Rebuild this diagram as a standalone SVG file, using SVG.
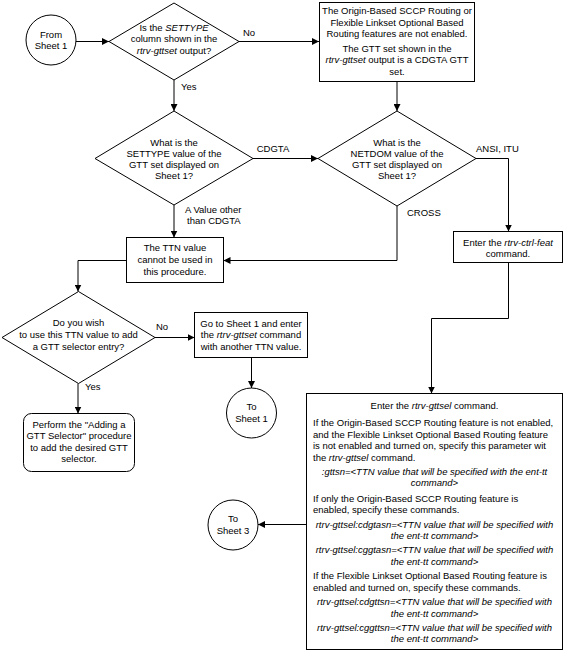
<svg xmlns="http://www.w3.org/2000/svg" width="565" height="656" viewBox="0 0 565 656">
<defs>
<style>
text{font-family:"Liberation Sans",Arial,sans-serif;font-size:9.5px;fill:#000}
.c{text-anchor:middle}
.i{font-style:italic}
.s{fill:#fff;stroke:#000;stroke-width:1}
.l{fill:none;stroke:#000;stroke-width:1}
</style>
<marker id="a" viewBox="0 0 8 8" refX="8" refY="4" markerWidth="7" markerHeight="7" markerUnits="userSpaceOnUse" orient="auto">
<path d="M0,0 L8,4 L0,8 z" fill="#000"/>
</marker>
</defs>
<rect width="565" height="656" fill="#fff"/>
<g id="connectors">
<path class="l" d="M76 41.5 H109" marker-end="url(#a)"/>
<path class="l" d="M239 41.5 H319" marker-end="url(#a)"/>
<path class="l" d="M397 81.5 V111" marker-end="url(#a)"/>
<path class="l" d="M174 80 V111" marker-end="url(#a)"/>
<path class="l" d="M253 158.5 H318" marker-end="url(#a)"/>
<path class="l" d="M476 158.5 H508.5 V231.5" marker-end="url(#a)"/>
<path class="l" d="M508.5 262.5 V318.5 H431.5 V393.5" marker-end="url(#a)"/>
<path class="l" d="M397 206 V260.5 H223.5" marker-end="url(#a)"/>
<path class="l" d="M174 205 V237.5" marker-end="url(#a)"/>
<path class="l" d="M126.5 260.5 H78 V291.5" marker-end="url(#a)"/>
<path class="l" d="M155 337.5 H194.5" marker-end="url(#a)"/>
<path class="l" d="M251.5 357.5 V388" marker-end="url(#a)"/>
<path class="l" d="M78 383.5 V413.5" marker-end="url(#a)"/>
<path class="l" d="M306.5 524.5 H258" marker-end="url(#a)"/>
<text x="243" y="36">No</text>
<text x="181" y="90">Yes</text>
<text class="c" x="273" y="152">CDGTA</text>
<text x="476" y="152">ANSI, ITU</text>
<text x="407" y="216">CROSS</text>
<text x="185" y="212.5">A Value other</text>
<text x="187" y="224">than CDGTA</text>
<text x="156" y="330">No</text>
<text x="85" y="390">Yes</text>
</g>
<g id="from-sheet1">
<circle class="s" cx="51" cy="40" r="25"/>
<text class="c" x="51" y="37.5">From</text>
<text class="c" x="51" y="49">Sheet 1</text>
</g>
<g id="settype-column">
<path class="s" d="M174 3 L239 41.5 L174 80 L109 41.5 z"/>
<text class="c" x="174" y="31">Is the <tspan class="i">SETTYPE</tspan></text>
<text class="c" x="174" y="42">column shown in the</text>
<text class="c" x="174" y="53.5"><tspan class="i">rtrv-gttset</tspan> output?</text>
</g>
<g id="features-not-enabled">
<rect class="s" x="319.5" y="2.5" width="155" height="79"/>
<text class="c" x="397" y="14">The Origin-Based SCCP Routing or</text>
<text class="c" x="397" y="25.5">Flexible Linkset Optional Based</text>
<text class="c" x="397" y="37">Routing features are not enabled.</text>
<text class="c" x="397" y="51.5">The GTT set shown in the</text>
<text class="c" x="397" y="63"><tspan class="i">rtrv-gttset</tspan> output is a CDGTA GTT</text>
<text class="c" x="397" y="74.5">set.</text>
</g>
<g id="settype-value">
<path class="s" d="M174 111 L253 158.5 L174 205 L95 158.5 z"/>
<text class="c" x="174" y="145.5">What is the</text>
<text class="c" x="174" y="156.5">SETTYPE value of the</text>
<text class="c" x="174" y="167.5">GTT set displayed on</text>
<text class="c" x="174" y="178.5">Sheet 1?</text>
</g>
<g id="netdom-value">
<path class="s" d="M397 111 L476 158.5 L397 206 L318 158.5 z"/>
<text class="c" x="397" y="145.5">What is the</text>
<text class="c" x="397" y="156.5">NETDOM value of the</text>
<text class="c" x="397" y="167.5">GTT set displayed on</text>
<text class="c" x="397" y="178.5">Sheet 1?</text>
</g>
<g id="rtrv-ctrl-feat">
<rect class="s" x="453.5" y="231.5" width="109" height="31"/>
<text class="c" x="508" y="245.5">Enter the <tspan class="i">rtrv-ctrl-feat</tspan></text>
<text class="c" x="508" y="256.5">command.</text>
</g>
<g id="ttn-cannot-be-used">
<rect class="s" x="126.5" y="237.5" width="97" height="45"/>
<text class="c" x="175" y="251">The TTN value</text>
<text class="c" x="175" y="263">cannot be used in</text>
<text class="c" x="175" y="275">this procedure.</text>
</g>
<g id="use-ttn">
<path class="s" d="M78.5 291.5 L155 337.5 L78.5 383.5 L2 337.5 z"/>
<text class="c" x="78.5" y="326">Do you wish</text>
<text class="c" x="78.5" y="338">to use this TTN value to add</text>
<text class="c" x="78.5" y="350">a GTT selector entry?</text>
</g>
<g id="go-to-sheet1">
<rect class="s" x="194.5" y="312.5" width="113" height="45"/>
<text class="c" x="251" y="326.5">Go to Sheet 1 and enter</text>
<text class="c" x="251" y="338">the <tspan class="i">rtrv-gttset</tspan> command</text>
<text class="c" x="251" y="350">with another TTN value.</text>
</g>
<g id="to-sheet1">
<circle class="s" cx="251.5" cy="413" r="25"/>
<text class="c" x="251.5" y="410">To</text>
<text class="c" x="251.5" y="422">Sheet 1</text>
</g>
<g id="add-gtt-selector">
<rect class="s" x="23.5" y="413.5" width="111" height="58" rx="8"/>
<text class="c" x="79" y="427.5">Perform the "Adding a</text>
<text class="c" x="79" y="439">GTT Selector" procedure</text>
<text class="c" x="79" y="450.5">to add the desired GTT</text>
<text class="c" x="79" y="462">selector.</text>
</g>
<g id="to-sheet3">
<circle class="s" cx="233" cy="525" r="25"/>
<text class="c" x="233" y="522">To</text>
<text class="c" x="233" y="534">Sheet 3</text>
</g>
<g id="rtrv-gttsel">
<rect class="s" x="306.5" y="393.5" width="256" height="256"/>
<text class="c" x="434.5" y="409">Enter the <tspan class="i">rtrv-gttsel</tspan> command.</text>
<text x="313" y="426">If the Origin-Based SCCP Routing feature is not enabled,</text>
<text x="313" y="437.5">and the Flexible Linkset Optional Based Routing feature</text>
<text x="313" y="449">is not enabled and turned on, specify this parameter wit</text>
<text x="313" y="460.5">the <tspan class="i">rtrv-gttsel</tspan> command.</text>
<text class="c i" x="434.5" y="474.5">:gttsn=&lt;TTN value that will be specified with the ent-tt</text>
<text class="c i" x="434.5" y="486">command&gt;</text>
<text x="313" y="501.5">If only the Origin-Based SCCP Routing feature is</text>
<text x="313" y="513">enabled, specify these commands.</text>
<text class="c i" x="434.5" y="527.5">rtrv-gttsel:cdgtasn=&lt;TTN value that will be specified with</text>
<text class="c i" x="434.5" y="539">the ent-tt command&gt;</text>
<text class="c i" x="434.5" y="553">rtrv-gttsel:cggtasn=&lt;TTN value that will be specified with</text>
<text class="c i" x="434.5" y="564.5">the ent-tt command&gt;</text>
<text x="313" y="579">If the Flexible Linkset Optional Based Routing feature is</text>
<text x="313" y="590.5">enabled and turned on, specify these commands.</text>
<text class="c i" x="434.5" y="605">rtrv-gttsel:cdgttsn=&lt;TTN value that will be specified with</text>
<text class="c i" x="434.5" y="616.5">the ent-tt command&gt;</text>
<text class="c i" x="434.5" y="630.5">rtrv-gttsel:cggttsn=&lt;TTN value that will be specified with</text>
<text class="c i" x="434.5" y="642">the ent-tt command&gt;</text>
</g>
</svg>
